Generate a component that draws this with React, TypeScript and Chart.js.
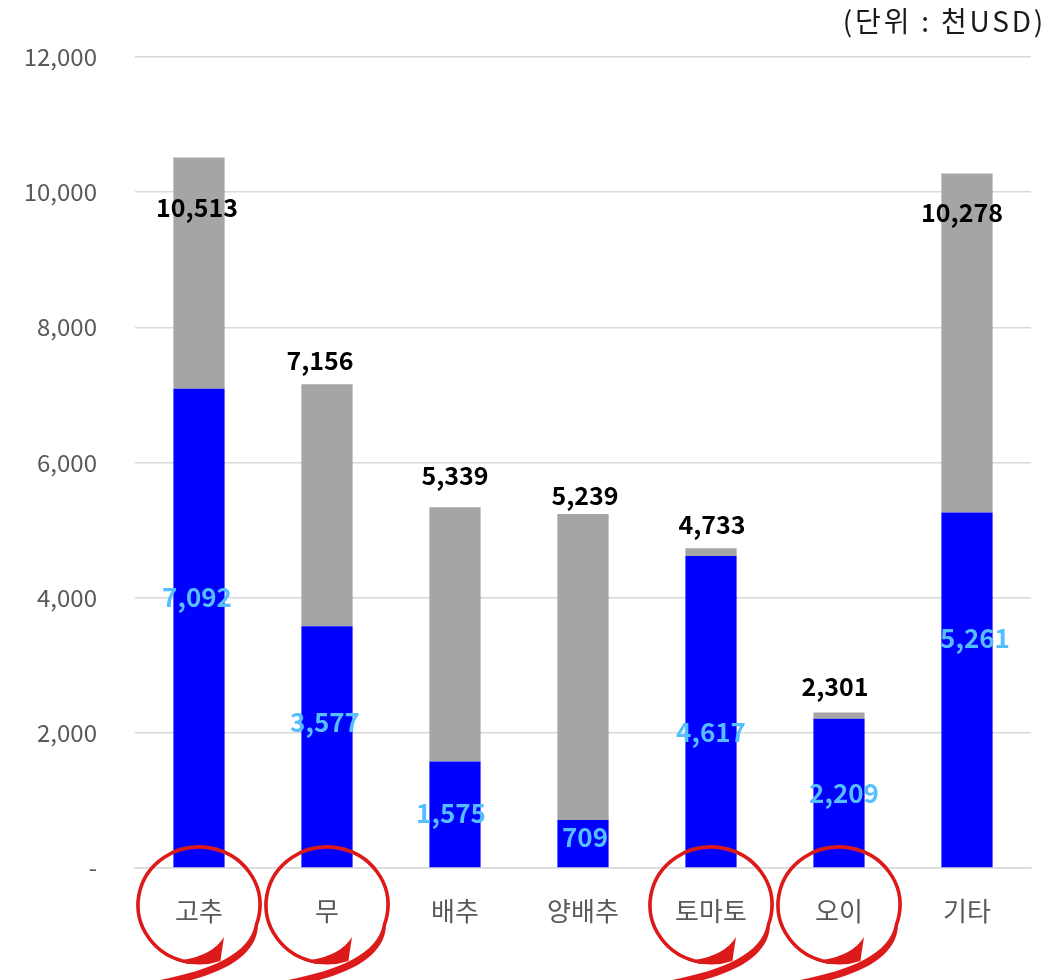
import React, { useEffect, useRef } from "react";
import { Chart, registerables } from "chart.js";

Chart.register(...registerables);

const categories = ["고추", "무", "배추", "양배추", "토마토", "오이", "기타"];
const totals = [10513, 7156, 5339, 5239, 4733, 2301, 10278];
const blueValues = [7092, 3577, 1575, 709, 4617, 2209, 5261];
const grayValues = totals.map((t, i) => t - blueValues[i]);
const circled = [true, true, false, false, true, true, false];
const yTicks = [0, 2000, 4000, 6000, 8000, 10000, 12000];
const unitLabel = "(단위 : 천USD)";

// label placement (style, not data)
const totalLabelDy = [50, -24, -32, -18, -24, -26, 39];
const totalLabelDx = [-2, -7, 0, 2, 1, -4, -5];
const blueLabelAt = [4010, 2160, 814, 459, 2012, 1110, 3403];
const blueLabelDx = [-2, -2, -4, 2, 0, 5, 8];

const FONT = "'Noto Sans CJK KR', 'Noto Sans', sans-serif";

const fmt = (v: number) => v.toLocaleString("en-US");
const deg = (d: number) => (d * Math.PI) / 180;

const labelsPlugin = {
  id: "labelsPlugin",
  afterDatasetsDraw(chart: any) {
    const ctx = chart.ctx;
    const meta0 = chart.getDatasetMeta(0);
    const meta1 = chart.getDatasetMeta(1);
    const y = chart.scales.y;
    ctx.save();
    ctx.textAlign = "center";
    ctx.textBaseline = "middle";
    meta0.data.forEach((bar: any, i: number) => {
      ctx.font = `600 26px ${FONT}`;
      ctx.fillStyle = "#55BEFF";
      ctx.fillText(fmt(blueValues[i]), bar.x + blueLabelDx[i], y.getPixelForValue(blueLabelAt[i]));
    });
    meta1.data.forEach((bar: any, i: number) => {
      ctx.font = `bold 25px ${FONT}`;
      ctx.fillStyle = "#000000";
      ctx.fillText(fmt(totals[i]), bar.x + totalLabelDx[i], y.getPixelForValue(totals[i]) + totalLabelDy[i]);
    });
    ctx.restore();
  },
  afterDraw(chart: any) {
    const ctx = chart.ctx;
    const x = chart.scales.x;
    const base = chart.scales.y.getPixelForValue(0);
    ctx.save();
    ctx.strokeStyle = "#DD1A1A";
    ctx.fillStyle = "#DD1A1A";
    ctx.lineWidth = 3.6;
    ctx.lineCap = "round";
    const rx = 61;
    const ry = 58;
    categories.forEach((_, i) => {
      if (!circled[i]) return;
      const cx = x.getPixelForValue(i);
      const cy = base + 37;
      // main loop
      ctx.beginPath();
      ctx.ellipse(cx, cy, rx, ry, 0, deg(100), deg(380));
      ctx.stroke();
      // thick start crescent
      ctx.beginPath();
      ctx.ellipse(cx, cy, rx + 1.5, ry + 1.5, 0, deg(106), deg(70), true);
      ctx.lineTo(cx + 25, cy + 32);
      ctx.quadraticCurveTo(cx + 14, cy + 50, cx - 16, cy + 55);
      ctx.closePath();
      ctx.fill();
      // tail swoosh
      const sx = cx + rx * Math.cos(deg(20));
      const sy = cy + ry * Math.sin(deg(20));
      ctx.beginPath();
      ctx.moveTo(sx - 1.5, sy);
      ctx.bezierCurveTo(cx + 50, cy + 50, cx + 10, cy + 66, cx - 44, cy + 76);
      ctx.lineTo(cx - 44, cy + 82);
      ctx.bezierCurveTo(cx + 14, cy + 74, cx + 58, cy + 55, sx + 1.8, sy);
      ctx.closePath();
      ctx.fill();
    });
    ctx.fillStyle = "#1a1a1a";
    ctx.font = `28px ${FONT}`;
    (ctx as any).letterSpacing = "2.8px";
    ctx.textAlign = "right";
    ctx.textBaseline = "middle";
    ctx.fillText(unitLabel, 1046, 21);
    ctx.restore();
  },
};

export default function App() {
  const ref = useRef<HTMLCanvasElement>(null);
  useEffect(() => {
    if (!ref.current) return;
    const chart = new Chart(ref.current, {
      type: "bar",
      data: {
        labels: categories,
        datasets: [
          { data: blueValues, backgroundColor: "#0000FF", barPercentage: 0.8, categoryPercentage: 0.5 },
          { data: grayValues, backgroundColor: "#A5A5A5", barPercentage: 0.8, categoryPercentage: 0.5 },
        ],
      },
      options: {
        animation: false,
        responsive: false,
        maintainAspectRatio: false,
        layout: { padding: { top: 57, right: 29, left: 0, bottom: 0 } },
        plugins: { legend: { display: false }, tooltip: { enabled: false } },
        scales: {
          x: {
            stacked: true,
            grid: { display: false, drawTicks: false },
            border: { color: "#D9D9D9", width: 1.5 },
            ticks: { color: "#595959", font: { size: 26, family: FONT }, padding: 28 },
            afterFit: (s: any) => { s.height = 112; },
          },
          y: {
            stacked: true,
            min: 0,
            max: 12000,
            afterBuildTicks: (s: any) => { s.ticks = yTicks.map((v) => ({ value: v })); },
            grid: { color: "#D9D9D9", lineWidth: 1.5, drawTicks: false },
            border: { display: false },
            ticks: {
              color: "#595959",
              font: { size: 24, family: FONT },
              padding: 38,
              callback: (v: any) => (v === 0 ? "-" : fmt(Number(v))),
            },
            afterFit: (s: any) => { s.width = 135; },
          },
        },
      },
      plugins: [labelsPlugin],
    });
    return () => chart.destroy();
  }, []);
  return (
    <div style={{ position: "absolute", left: 0, top: 0, width: 1060, height: 980, background: "#fff" }}>
      <canvas ref={ref} width={1060} height={980} />
    </div>
  );
}
